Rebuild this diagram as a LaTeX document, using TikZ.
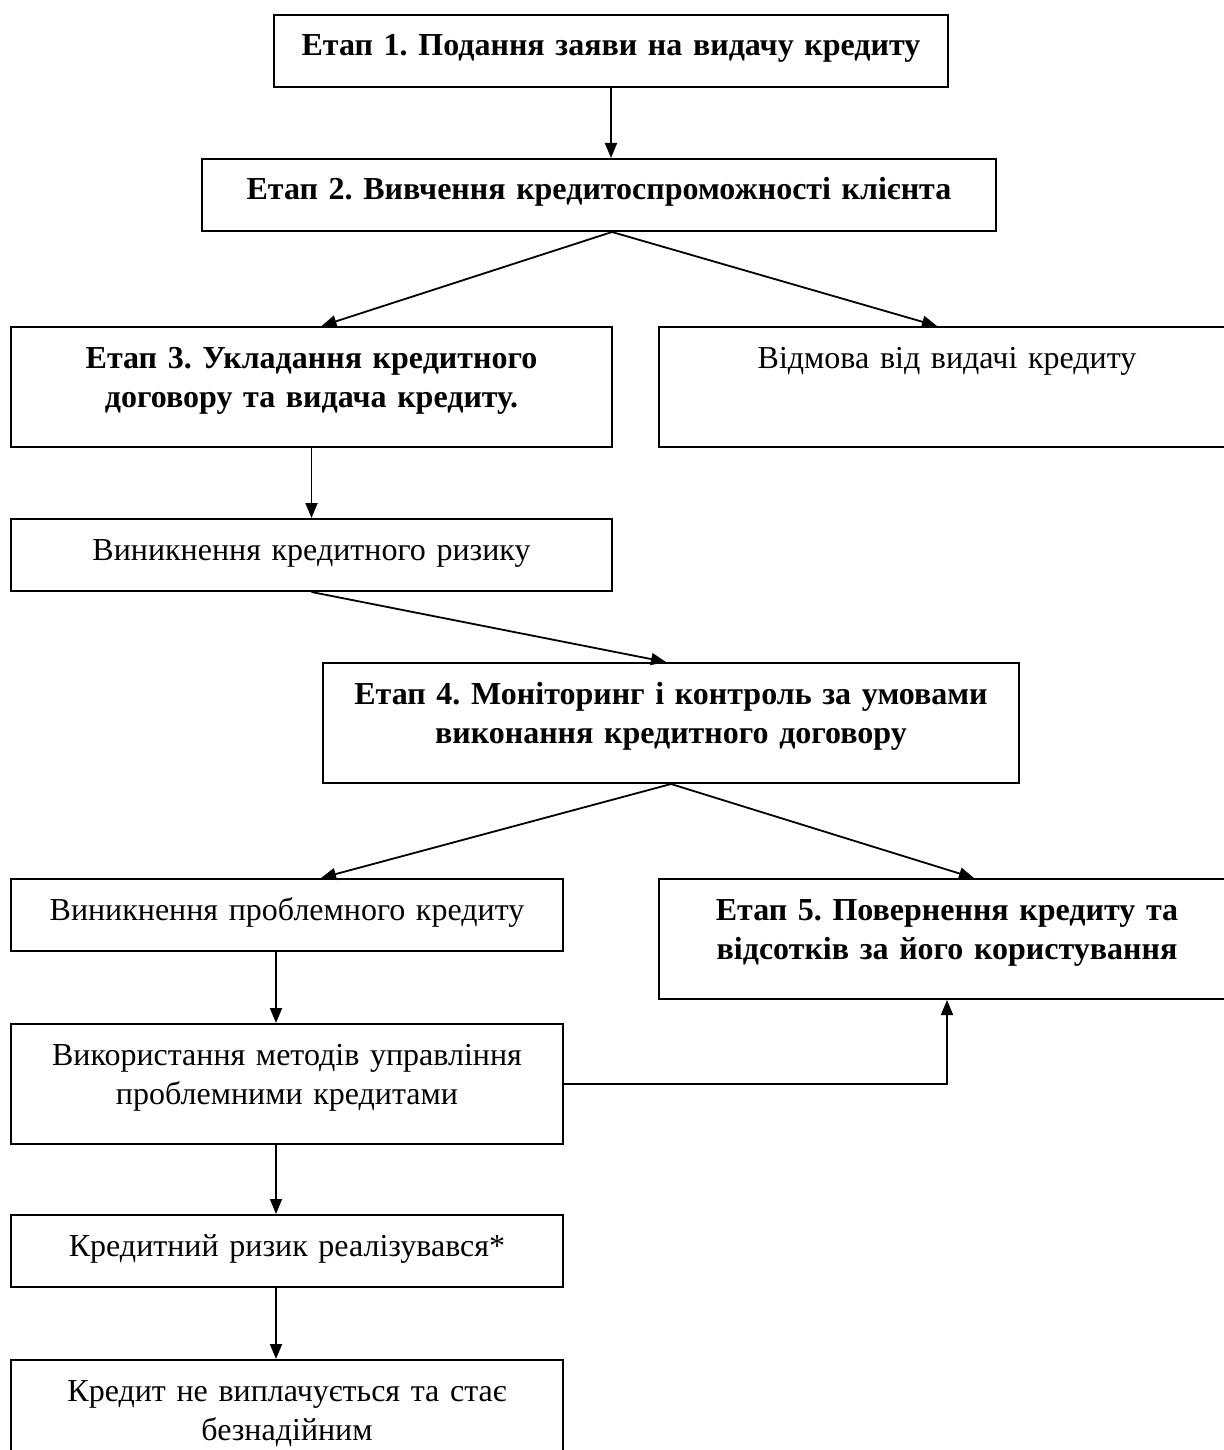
\documentclass[tikz,border=0pt]{standalone}
\usepackage{fontspec}
\setmainfont{Liberation Serif}
\frenchspacing
\usetikzlibrary{arrows.meta}

\tikzset{
  stage/.style={draw, line width=2pt, align=center, anchor=north west,
    inner xsep=0pt, inner ysep=18pt, text height=23pt,
    font=\fontsize{32}{39}\selectfont},
  bold/.style={font=\fontsize{32}{39}\selectfont\bfseries},
  low/.style={text depth=13pt},
  tall/.style={text depth=61pt},
  arr/.style={-{Triangle[length=15pt,width=12pt]}, line width=1.8pt}
}

\begin{document}
\begin{tikzpicture}[x=1pt,y=-1pt]
  \useasboundingbox (0,0) rectangle (1223,1450);

  \node [stage,bold,low,text width=674pt] (st1) at (273,14) {Етап 1. Подання заяви на видачу кредиту};
  \node [stage,bold,low,text width=794pt] (st2) at (201,158) {Етап 2. Вивчення кредитоспроможності клієнта};
  \node [stage,bold,tall,text width=601pt] (st3) at (10,326) {Етап 3. Укладання кредитного\\ договору та видача кредиту.};
  \node [stage,tall,text width=576pt] (refuse) at (658,326) {Відмова від видачі кредиту};
  \node [stage,low,text width=601pt] (risk) at (10,518) {Виникнення кредитного ризику};
  \node [stage,bold,tall,text width=696pt] (st4) at (322,662) {Етап 4. Моніторинг і контроль за умовами\\ виконання кредитного договору};
  \node [stage,low,text width=552pt] (problem) at (10,878) {Виникнення проблемного кредиту};
  \node [stage,bold,tall,text width=576pt] (st5) at (658,878) {Етап 5. Повернення кредиту та\\ відсотків за його користування};
  \node [stage,tall,text width=552pt] (methods) at (10,1023) {Використання методів управління\\ проблемними кредитами};
  \node [stage,low,text width=552pt] (realized) at (10,1214) {Кредитний ризик реалізувався*};
  \node [stage,tall,text width=552pt] (bad) at (10,1359) {Кредит не виплачується та стає\\ безнадійним};

  % connectors
  \draw [arr] (st1.south) -- (st1.south |- st2.north);
  \draw [arr] ([xshift=13pt]st2.south) -- ([xshift=10pt]st3.north);
  \draw [arr] ([xshift=13pt]st2.south) -- ([xshift=-10pt]refuse.north);
  \draw [arr] (st3.south) -- (risk.north);
  \draw [arr] (risk.south) -- ([xshift=-5pt]st4.north);
  \draw [arr] (st4.south) -- ([xshift=34pt]problem.north);
  \draw [arr] (st4.south) -- ([xshift=27pt]st5.north);
  \draw [arr] ([xshift=-11pt]problem.south) -- ([xshift=-11pt]methods.north);
  \draw [arr] (methods.east) -| (st5.south);
  \draw [arr] ([xshift=-11pt]methods.south) -- ([xshift=-11pt]realized.north);
  \draw [arr] ([xshift=-11pt]realized.south) -- ([xshift=-11pt]bad.north);
\end{tikzpicture}
\end{document}
